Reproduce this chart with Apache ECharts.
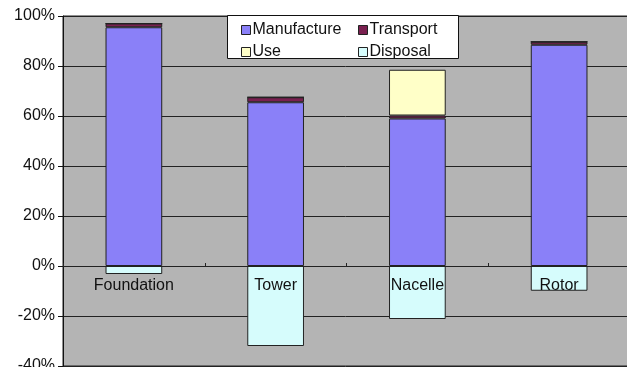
<!DOCTYPE html>
<html>
<head>
<meta charset="utf-8">
<script src="https://cdn.jsdelivr.net/npm/echarts@6/dist/echarts.min.js"></script>
<style>
  html, body { margin: 0; padding: 0; background: #fff; }
  #chart { width: 627px; height: 367px; }
</style>
</head>
<body>
<div id="chart"></div>
<script>
// Life-cycle share by wind turbine component (%)
const components = ['Foundation', 'Tower', 'Nacelle', 'Rotor'];
const manufacture = [95.5, 65.5, 59, 88.5];
const transport = [1.5, 2, 1.2, 1.2];
const use = [0, 0, 18.3, 0];
const disposal = [-3.2, -32, -21.2, -9.9];

const colors = {
  Manufacture: '#8A80F8',
  Transport: '#7A2050',
  Use: '#FFFFC8',
  Disposal: '#D6FCFC'
};

const font = 'Arial, "Liberation Sans", sans-serif';
const barStyle = (c) => ({ color: c, borderColor: '#222', borderWidth: 1 });

function bar(name, data, extra) {
  return Object.assign({
    name, type: 'bar', stack: 'lca', data,
    barWidth: '40%',
    itemStyle: barStyle(colors[name]),
    emphasis: { disabled: true }
  }, extra || {});
}

const legendCommon = {
  orient: 'vertical',
  top: 17,
  itemWidth: 9,
  itemHeight: 9,
  itemGap: 6,
  icon: 'rect',
  textStyle: { fontFamily: font, fontSize: 16, color: '#111', padding: [0, 0, 0, -3] },
  selectedMode: false,
  itemStyle: { borderColor: '#222', borderWidth: 1 }
};

const chart = echarts.init(document.getElementById('chart'), null, { renderer: 'canvas' });
chart.setOption({
  animation: false,
  backgroundColor: '#fff',
  grid: {
    left: 63, right: -3, top: 16, bottom: 1,
    outerBoundsMode: 'none', containLabel: false,
    show: true, backgroundColor: '#B4B4B4', borderColor: '#222', borderWidth: 1
  },
  graphic: [{
    type: 'rect', z: 50,
    shape: { x: 227.5, y: 15.5, width: 231, height: 43 },
    style: { fill: '#fff', stroke: '#111', lineWidth: 1 }
  }],
  legend: [
    Object.assign({}, legendCommon, { left: 236, data: ['Manufacture', 'Use'], z: 60 }),
    Object.assign({}, legendCommon, { left: 353, data: ['Transport', 'Disposal'], z: 60 })
  ],
  xAxis: {
    type: 'category',
    data: components,
    z: 10,
    axisLine: { onZero: true, lineStyle: { color: '#222', width: 1 } },
    axisTick: { show: true, length: 3, inside: true, lineStyle: { color: '#222' } },
    axisLabel: { show: false },
    splitLine: { show: false }
  },
  yAxis: {
    type: 'value',
    min: -40, max: 100, interval: 20,
    axisLine: { show: true, lineStyle: { color: '#111', width: 1 } },
    axisTick: { show: true, length: 5, lineStyle: { color: '#111' } },
    axisLabel: { formatter: '{value}%', fontFamily: font, fontSize: 16, color: '#111', margin: 8 },
    splitLine: { show: true, lineStyle: { color: '#222', width: 1 } }
  },
  series: [
    // category names hang just under the zero line, below each column's base
    bar('Manufacture', manufacture, {
      label: {
        show: true, position: 'bottom', distance: 12, formatter: '{b}',
        fontFamily: font, fontSize: 16, color: '#111'
      }
    }),
    bar('Transport', transport),
    bar('Use', use),
    bar('Disposal', disposal)
  ]
});
</script>
</body>
</html>
